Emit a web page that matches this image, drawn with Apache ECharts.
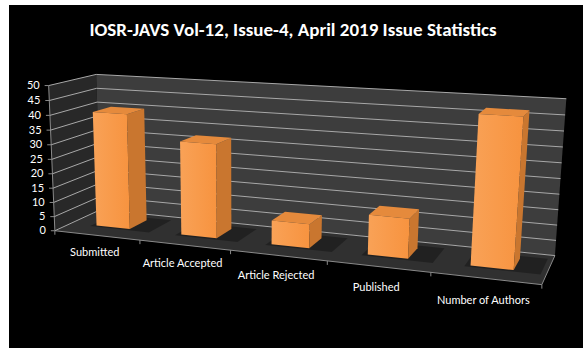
<!DOCTYPE html>
<html><head><meta charset="utf-8">
<script src="https://cdn.jsdelivr.net/npm/echarts@6/dist/echarts.min.js"></script>
<style>
html,body{margin:0;padding:0;background:#fff;}
#bg{position:absolute;left:9px;top:5px;width:574px;height:343px;background:#000;}
#main{position:absolute;left:0;top:0;width:588px;height:354px;}
</style></head><body>
<div id="bg"></div><div id="main"></div>
<script>
// ---- data ----
const chartTitle = 'IOSR-JAVS Vol-12, Issue-4, April 2019 Issue Statistics';
const categories = ['Submitted', 'Article Accepted', 'Article Rejected', 'Published', 'Number of Authors'];
const values = [40, 32, 8, 13, 47];
const yTicks = [0, 5, 10, 15, 20, 25, 30, 35, 40, 45, 50];
const yMax = 50;

// ---- perspective frame calibration (u: category units, t: value fraction, w: depth 0 front..1 back -> screen) ----
const frameCalib = [
  [0,0,0, 56,229],[1,0,0, 141,238],[2,0,0, 230,249],[3,0,0, 327,262],[4,0,0, 430,273],[5,0,0, 543,287],
  [0,1,0, 47,87],[0,0,1, 99,214],[5,0,1, 555,252],[0,1,1, 98,72],[5,1,1, 566,100]
];
function solveCamera(pts){
  const n = 11, M = [];
  for (let i=0;i<n;i++) M.push(new Array(n+1).fill(0));
  const rows = [];
  for (const [U,V,W,x,y] of pts){
    rows.push([[U,V,W,1,0,0,0,0,-x*U,-x*V,-x*W], x]);
    rows.push([[0,0,0,0,U,V,W,1,-y*U,-y*V,-y*W], y]);
  }
  for (const [a,b] of rows){
    for (let i=0;i<n;i++){ for (let j=0;j<n;j++) M[i][j]+=a[i]*a[j]; M[i][n]+=a[i]*b; }
  }
  for (let c=0;c<n;c++){
    let piv=c; for (let r=c+1;r<n;r++) if (Math.abs(M[r][c])>Math.abs(M[piv][c])) piv=r;
    [M[c],M[piv]]=[M[piv],M[c]];
    for (let r=0;r<n;r++){ if(r===c) continue; const f=M[r][c]/M[c][c]; for (let k=c;k<=n;k++) M[r][k]-=f*M[c][k]; }
  }
  return M.map((r,i)=>r[n]/r[i]);
}
const cam = solveCamera(frameCalib);
function P(u,t,w){
  const d = cam[8]*u+cam[9]*t+cam[10]*w+1;
  return [(cam[0]*u+cam[1]*t+cam[2]*w+cam[3])/d, (cam[4]*u+cam[5]*t+cam[6]*w+cam[7])/d];
}
const nCat = categories.length;
function mapper(params){
  const cs = params.coordSys;
  return {
    u: px => (px - cs.x)/cs.width*nCat,
    t: py => (cs.y + cs.height - py)/cs.height
  };
}
const poly = (pts, fill, z2) => ({type:'polygon', z2: z2||0, shape:{points:pts}, style:{fill:fill}});
const line = (a, b, stroke, w, z2) => ({type:'line', z2: z2||0, shape:{x1:a[0],y1:a[1],x2:b[0],y2:b[1]}, style:{stroke:stroke, lineWidth:w||1}});
const FONT = 'Lato, "Open Sans", sans-serif';
const AXIS = '#8a8a8a';
const GRIDC = '#a8a8a8';

const option = {
  animation: false,
  backgroundColor: 'transparent',
  title: {
    text: chartTitle, left: 288, top: 15, textAlign: 'center',
    textStyle: {color:'#ffffff', fontSize: 19, fontWeight:'bold', fontFamily: 'Carlito, "Liberation Sans Narrow", Lato, sans-serif'}
  },
  grid: {left: 60, top: 60, width: 450, height: 200, show: false},
  xAxis: {type:'category', data: categories, show: false},
  yAxis: {type:'value', min: 0, max: yMax, interval: 5, show: false},
  series: [
    { // walls and floor
      type:'custom', z: 1, silent: true,
      data: [[0, 0]],
      renderItem: function(params, api){
        const m = mapper(params);
        const u0 = m.u(api.coord([0,0])[0] - api.size([1,0])[0]/2);
        const u1 = m.u(api.coord([nCat-1,0])[0] + api.size([1,0])[0]/2);
        const t0 = m.t(api.coord([0,0])[1]), t1 = m.t(api.coord([0,yMax])[1]);
        return {type:'group', children:[
          poly([P(u0,t0,0),P(u0,t0,1),P(u0,t1,1),P(u0,t1,0)], '#282828', 0),
          poly([P(u0,t0,1),P(u1,t0,1),P(u1,t1,1),P(u0,t1,1)], '#3d3d3d', 0),
          poly([P(u0,t0,0),P(u1,t0,0),P(u1,t0,1),P(u0,t0,1)], '#303030', 1),
          line(P(u0,t0,0), P(u1,t0,0), AXIS, 1, 3),
          line(P(u1,t0,0), P(u1,t0,1), AXIS, 1, 3),
          line(P(u0,t0,0), P(u0,t1,0), AXIS, 1, 3)
        ]};
      }
    },
    { // gridlines, value ticks and labels
      type:'custom', z: 2, silent: true,
      data: yTicks.map(v => [0, v]),
      renderItem: function(params, api){
        const m = mapper(params);
        const u0 = m.u(api.coord([0,0])[0] - api.size([1,0])[0]/2);
        const u1 = m.u(api.coord([nCat-1,0])[0] + api.size([1,0])[0]/2);
        const t = m.t(api.coord([0, api.value(1)])[1]);
        const a = P(u0,t,0);
        const ch = [
          line(a, P(u0,t,1), GRIDC, 1),
          line(P(u0,t,1), P(u1,t,1), GRIDC, 1),
          line(a, [a[0]-4, a[1]], AXIS, 1),
          {type:'text', style:{text: String(api.value(1)), x: a[0]-9, y: a[1]-1, align:'right', verticalAlign:'middle',
            fill:'#ffffff', font: '11px ' + FONT}}
        ];
        return {type:'group', children: ch};
      }
    },
    { // category ticks
      type:'custom', z: 2, silent: true,
      data: categories.concat(['']).map((c,i)=>[i, 0]),
      renderItem: function(params, api){
        const m = mapper(params);
        const i = api.value(0);
        const u = m.u(api.coord([0,0])[0] - api.size([1,0])[0]/2) + i;
        const a = P(u, 0, 0);
        return line(a, [a[0], a[1]+4], AXIS, 1);
      }
    },
    { // 3D columns
      type:'custom', z: 3,
      data: values.map((v,i)=>[i, v]),
      renderItem: function(params, api){
        const m = mapper(params);
        const i = api.value(0), v = api.value(1);
        const top = api.coord([i, v]), base = api.coord([i, 0]);
        const bw = api.size([1,0])[0];
        const u0 = m.u(top[0] - bw*0.2), u1 = m.u(top[0] + bw*0.2);
        const t0 = m.t(base[1]), t1 = m.t(top[1]);
        const w0 = 0.36, w1 = 0.76;
        const uc = m.u(top[0]);
        const lab = P(uc, 0, 0);
        return {type:'group', children:[
          poly([P(u0-0.05,t0,w0-0.05),P(u1+0.25,t0,w0-0.05),P(u1+0.25,t0,w1+0.1),P(u0-0.05,t0,w1+0.1)], 'rgba(0,0,0,0.3)', 0),
          poly([P(u0,t0,w0),P(u1,t0,w0),P(u1,t1,w0),P(u0,t1,w0)], {type:'linear',x:0,y:0,x2:1,y2:0,colorStops:[{offset:0,color:'#f9a257'},{offset:1,color:'#f7933f'}]}, 2),
          poly([P(u1,t0,w0),P(u1,t0,w1),P(u1,t1,w1),P(u1,t1,w0)], '#c9762f', 2),
          poly([P(u0,t1,w0),P(u1,t1,w0),P(u1,t1,w1),P(u0,t1,w1)], '#e58a3c', 2),
          {type:'text', z2: 5, style:{text: categories[i], x: lab[0]-2, y: lab[1]+16+1.4*i, align:'center', verticalAlign:'middle',
            fill:'#ffffff', font: '11px ' + FONT}}
        ]};
      }
    }
  ]
};
const chart = echarts.init(document.getElementById('main'), null, {renderer:'svg'});
chart.setOption(option);
</script>
</body></html>
